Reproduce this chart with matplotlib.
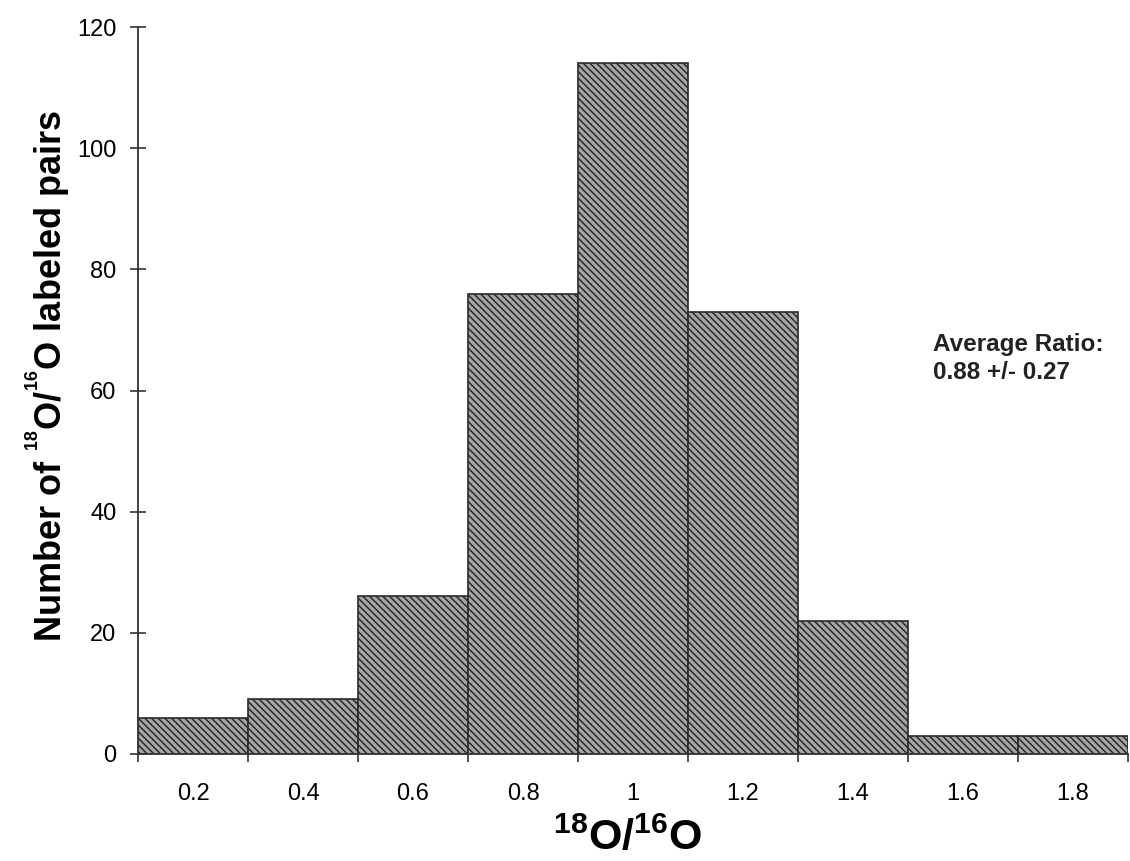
import matplotlib
matplotlib.use('Agg')
import matplotlib.pyplot as plt
import numpy as np

plt.rcParams['font.family'] = ['Liberation Sans', 'DejaVu Sans']
plt.rcParams['mathtext.fontset'] = 'custom'
plt.rcParams['mathtext.rm'] = 'Liberation Sans:bold'
plt.rcParams['mathtext.it'] = 'Liberation Sans:bold'
plt.rcParams['mathtext.bf'] = 'Liberation Sans:bold'
plt.rcParams['hatch.linewidth'] = 1.1

# histogram data: bin centers and counts
bin_centers = [0.2, 0.4, 0.6, 0.8, 1.0, 1.2, 1.4, 1.6, 1.8]
counts = [6, 9, 26, 76, 114, 73, 22, 3, 3]
tick_labels = ['0.2', '0.4', '0.6', '0.8', '1', '1.2', '1.4', '1.6', '1.8']
bin_width = 0.2

fig = plt.figure(figsize=(11.3, 8.61), dpi=100)
ax = fig.add_axes([138/1130, 107/861, 990/1130, 727/861])

ax.bar(bin_centers, counts, width=bin_width, color='#a6a6a6',
       edgecolor='#2a2a2a', linewidth=1.2, hatch='\\' * 5)

ax.set_xlim(0.1, 1.9)
ax.set_ylim(0, 120)

for s in ['top', 'right']:
    ax.spines[s].set_visible(False)
for s in ['left', 'bottom']:
    ax.spines[s].set_color('#333333')
    ax.spines[s].set_linewidth(1.3)

# ticks at bin edges, labels at bin centers
edges = np.arange(0.1, 1.95, 0.2)
ax.set_xticks(edges)
ax.set_xticklabels([])
ax.set_xticks(bin_centers, minor=True)
ax.set_xticklabels(tick_labels, minor=True)
ax.tick_params(axis='x', which='major', direction='out', length=6, width=1.2, color='#333333')
ax.tick_params(axis='x', which='minor', length=0, pad=21, labelsize=17)

ax.set_yticks([0, 20, 40, 60, 80, 100, 120])
ax.tick_params(axis='y', direction='inout', length=11, width=1.2, color='#333333',
               pad=10, labelsize=17)

ax.text(1.545, 66.6, 'Average Ratio:', fontsize=17.5, fontweight='bold', color='#222222',
        va='baseline')
ax.text(1.545, 61.9, '0.88 +/- 0.27', fontsize=17.5, fontweight='bold', color='#222222',
        va='baseline')

fig.text(48/1130, 1 - 376/861, r'Number of ${}^{{}^{18}}$O/${}^{{}^{16}}$O labeled pairs',
         rotation=90, fontsize=26, fontweight='bold', ha='center', va='center')
fig.text(628/1130, 11/861, r'$^{18}$O/$^{16}$O', fontsize=31, fontweight='bold',
         ha='center', va='baseline')

fig.savefig('out.png', dpi=100)
